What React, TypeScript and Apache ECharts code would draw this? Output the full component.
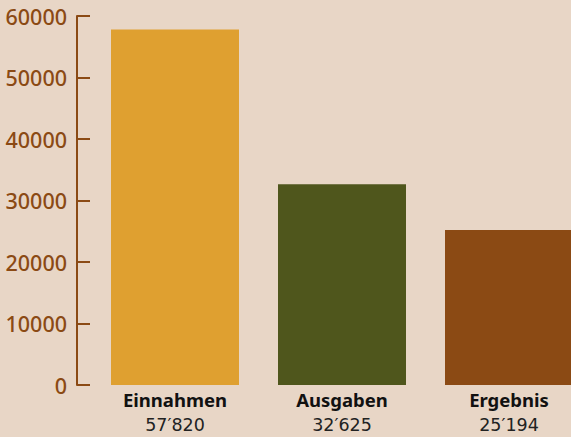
import React, { useEffect, useRef } from "react";
import * as echarts from "echarts";

const categories = ["Einnahmen", "Ausgaben", "Ergebnis"];
const values = [57820, 32625, 25194];
const barColors = ["#DFA030", "#4F561C", "#8B4A14"];
const yTicks = { min: 0, max: 60000, interval: 10000 };

const fmt = (v: number) => String(v).replace(/\B(?=(\d{3})+(?!\d))/g, "\u2032");

export default function App() {
  const ref = useRef<HTMLDivElement>(null);
  useEffect(() => {
    const chart = echarts.init(ref.current!, null, { renderer: "svg" });
    chart.setOption({
      animation: false,
      backgroundColor: "#E8D6C6",
      grid: { left: 175, right: 62, top: 16, bottom: 52, containLabel: false, outerBoundsMode: "none" },
      xAxis: {
        type: "category",
        boundaryGap: false,
        data: categories.map((c, i) => c + "|" + fmt(values[i])),
        axisLine: { show: false },
        axisTick: { show: false },
        axisLabel: {
          margin: 2,
          interval: 0,
          formatter: (v: string) => {
            const [n, val] = v.split("|");
            return "{a|" + n + "}\n{b|" + val + "}";
          },
          rich: {
            a: { fontFamily: "Noto Sans", fontWeight: "bold", fontSize: 18.5, color: "#111", lineHeight: 25 },
            b: { fontFamily: "DejaVu Sans", fontSize: 17.5, color: "#222", lineHeight: 26 },
          },
        },
      },
      yAxis: {
        type: "value",
        min: yTicks.min,
        max: yTicks.max,
        interval: yTicks.interval,
        offset: 98,
        axisLine: { show: true, lineStyle: { color: "#8B4A14", width: 2 } },
        axisTick: { show: true, inside: true, length: 13, lineStyle: { color: "#8B4A14", width: 2 } },
        splitLine: { show: false },
        axisLabel: {
          margin: 10,
          color: "#8B4A14",
          fontFamily: "Noto Sans",
          fontWeight: 500,
          fontSize: 21.5,
          formatter: (v: number) => String(v),
        },
      },
      series: [
        {
          type: "bar",
          barWidth: 128,
          clip: false,
          data: values.map((v, i) => ({ value: v, itemStyle: { color: barColors[i] } })),
        },
      ],
    });
    return () => chart.dispose();
  }, []);
  return <div ref={ref} style={{ position: "fixed", left: 0, top: 0, width: 571, height: 437 }} />;
}
